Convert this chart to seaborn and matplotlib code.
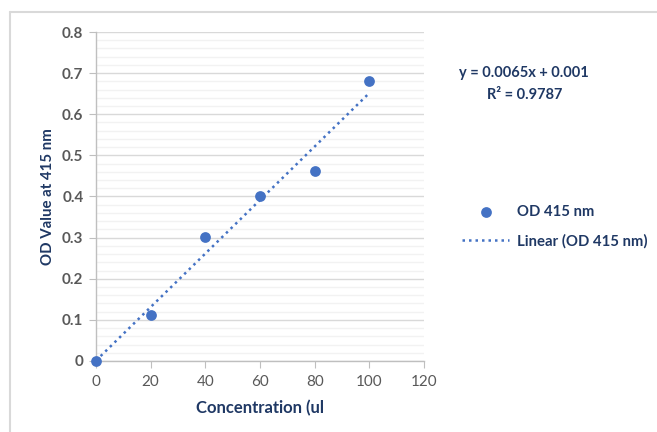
import seaborn as sns
import matplotlib.pyplot as plt
import pandas as pd
import numpy as np
from matplotlib.lines import Line2D
from matplotlib.ticker import MultipleLocator

# data
concentration = [0, 20, 40, 60, 80, 100]
od_415 = [0.0, 0.112, 0.302, 0.401, 0.461, 0.682]
x_ticks = [0, 20, 40, 60, 80, 100, 120]
y_ticks = [0, 0.1, 0.2, 0.3, 0.4, 0.5, 0.6, 0.7, 0.8]
equation = "y = 0.0065x + 0.001"
r_squared = "R² = 0.9787"

df = pd.DataFrame({"Concentration": concentration, "OD": od_415})

sns.set_style("white")
plt.rcParams["font.family"] = ["Lato", "DejaVu Sans"]

blue = "#4472C4"
navy = "#1F3864"
tick_gray = "#595959"

fig = plt.figure(figsize=(6.57, 4.32), dpi=100)
ax = fig.add_axes([0.1461, 0.1644, 0.4993, 0.7615])

# trendline (least squares fit), drawn over the data range
sns.regplot(data=df, x="Concentration", y="OD", scatter=False, ci=None,
            ax=ax, color=blue,
            line_kws=dict(linestyle=(0, (1, 1.6)), linewidth=1.8, zorder=3))
trend_line = ax.lines[-1]
trend_line.set_label("Linear (OD 415 nm)")

sns.scatterplot(data=df, x="Concentration", y="OD", ax=ax, color=blue,
                s=60, edgecolor=blue, linewidth=0, zorder=4, clip_on=False)
points = ax.collections[-1]

ax.set_xlim(0, 120)
ax.set_ylim(0, 0.8)
ax.set_xticks(x_ticks)
ax.set_yticks(y_ticks)
ax.set_yticklabels([f"{v:g}" for v in y_ticks])
ax.yaxis.set_minor_locator(MultipleLocator(0.02))

ax.grid(axis="y", which="major", color="#D9D9D9", linewidth=1.0, zorder=0)
ax.grid(axis="y", which="minor", color="#F2F2F2", linewidth=1.0, zorder=0)
ax.set_axisbelow(True)

for side in ["top", "right"]:
    ax.spines[side].set_visible(False)
for side in ["left", "bottom"]:
    ax.spines[side].set_color("#BFBFBF")
    ax.spines[side].set_linewidth(1.0)

ax.tick_params(axis="x", which="major", direction="out", length=5,
               color="#BFBFBF", labelsize=11, labelcolor=tick_gray, pad=5)
ax.tick_params(axis="y", which="major", direction="out", length=5,
               color="#BFBFBF", labelsize=11, labelcolor=tick_gray, pad=4)
ax.tick_params(axis="y", which="minor", length=0)
ax.tick_params(left=True, bottom=True)
for lbl in ax.get_yticklabels():
    lbl.set_fontweight("bold")

ax.set_xlabel("Concentration (ul", fontsize=12, fontweight="bold",
              color=navy, labelpad=8)
ax.set_ylabel("OD Value at 415 nm", fontsize=10.8, fontweight="bold",
              color=navy, labelpad=5)

# legend on the right
ax.legend([points, trend_line], ["OD 415 nm", "Linear (OD 415 nm)"],
          loc="center left", bbox_to_anchor=(0.703, 0.4745),
          bbox_transform=fig.transFigure, frameon=False, borderpad=0,
          borderaxespad=0, handlelength=3.2, handletextpad=0.5,
          labelspacing=1.0, prop=dict(size=10.7, weight="bold"),
          labelcolor=navy)

# trendline equation
fig.text(0.798, 0.831, equation, ha="center", va="center",
         fontsize=10.5, fontweight="bold", color=navy)
fig.text(0.798, 0.780, r_squared, ha="center", va="center",
         fontsize=10.5, fontweight="bold", color=navy)

# chart area border
fig.add_artist(Line2D([10 / 657, 1], [1 - 12 / 432, 1 - 12 / 432],
                      transform=fig.transFigure, color="#D9D9D9", lw=1.5))
fig.add_artist(Line2D([10 / 657, 10 / 657], [0, 1 - 12 / 432],
                      transform=fig.transFigure, color="#D9D9D9", lw=1.5))

plt.savefig("out.png", dpi=100)
plt.close()
